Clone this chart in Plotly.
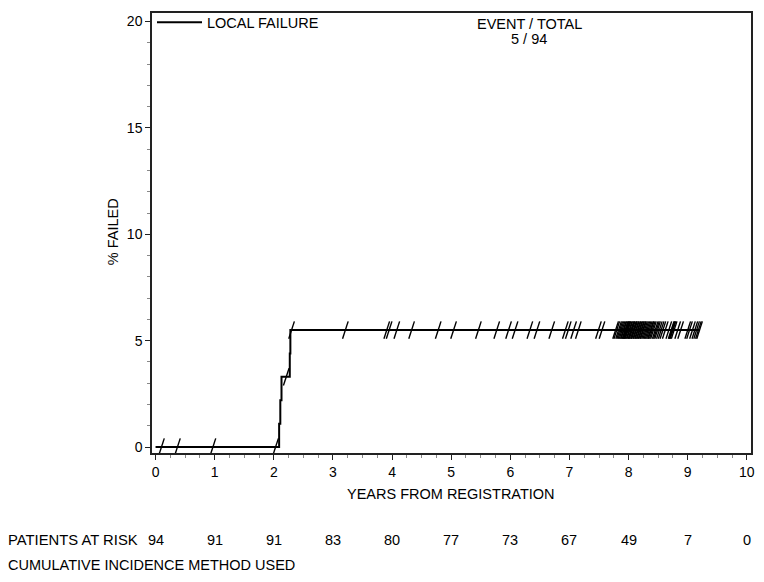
import plotly.graph_objects as go

# ---- data ----
event_times = [2.09, 2.11, 2.13, 2.27, 2.28]
cum_incidence = [1.1, 2.2, 3.3, 4.4, 5.5]
last_followup = 9.20

censor_times = [0.10, 0.37, 0.97, 2.03, 2.21, 2.30, 3.21, 3.91, 3.95, 4.08, 4.33, 4.78,
                5.04, 5.46, 5.77, 5.97, 6.08, 6.33, 6.45, 6.70, 6.93, 6.98, 7.07, 7.15,
                7.49, 7.55,
                7.78, 7.80, 7.83, 7.85, 7.87, 7.89, 7.91, 7.92, 7.94, 7.95, 7.96, 7.97, 7.98, 7.99,
                8.01, 8.02, 8.04, 8.05, 8.06, 8.08, 8.09, 8.10, 8.12, 8.13,
                8.15, 8.16, 8.18, 8.19, 8.21, 8.22, 8.24, 8.25, 8.27, 8.29,
                8.31, 8.33, 8.35, 8.37, 8.38, 8.40, 8.42, 8.45, 8.47, 8.49,
                8.52, 8.55, 8.58, 8.62, 8.68, 8.72, 8.73, 8.74, 8.75, 8.77,
                8.83, 8.88,
                9.00, 9.03, 9.08, 9.12, 9.15, 9.18, 9.20]

risk_years = [0, 1, 2, 3, 4, 5, 6, 7, 8, 9, 10]
patients_at_risk = [94, 91, 91, 83, 80, 77, 73, 67, 49, 7, 0]
x_ticks = [0, 1, 2, 3, 4, 5, 6, 7, 8, 9, 10]
y_ticks = [0, 5, 10, 15, 20]

legend_name = "LOCAL FAILURE"
events_total = "5 / 94"

FONT = "Liberation Sans, Arial, sans-serif"
TXT = 14.5

# step curve
xs = [0.0] + event_times + [last_followup]
ys = [0.0] + cum_incidence + [cum_incidence[-1]]


def level_at(t):
    lvl = 0.0
    for et, ci in zip(event_times, cum_incidence):
        if et <= t:
            lvl = ci
    return lvl


censor_levels = [level_at(t) for t in censor_times]

fig = go.Figure()
fig.add_trace(go.Scatter(x=xs, y=ys, mode="lines", line_shape="hv",
                         line=dict(color="black", width=2), name=legend_name))
fig.add_trace(go.Scatter(x=censor_times, y=censor_levels, mode="markers",
                         marker=dict(symbol="line-ns", size=13, angle=18,
                                     line=dict(color="black", width=1.4)),
                         showlegend=False, hoverinfo="skip"))

annotations = [
    dict(x=0.63, y=0.975, xref="paper", yref="paper", text="EVENT / TOTAL",
         showarrow=False, xanchor="center", yanchor="middle", font=dict(size=TXT)),
    dict(x=0.63, y=0.941, xref="paper", yref="paper", text=events_total,
         showarrow=False, xanchor="center", yanchor="middle", font=dict(size=TXT)),
    dict(x=0.499, y=-0.093, xref="paper", yref="paper", text="YEARS FROM REGISTRATION",
         showarrow=False, xanchor="center", yanchor="middle", font=dict(size=TXT)),
    dict(x=-0.065, y=0.502, xref="paper", yref="paper", text="% FAILED", textangle=-90,
         showarrow=False, xanchor="center", yanchor="middle", font=dict(size=TXT)),
    dict(x=-0.2435, y=-0.1977, xref="paper", yref="paper", text="PATIENTS AT RISK",
         showarrow=False, xanchor="left", yanchor="middle", font=dict(size=14.8)),
    dict(x=-0.2435, y=-0.2545, xref="paper", yref="paper",
         text="CUMULATIVE INCIDENCE METHOD USED",
         showarrow=False, xanchor="left", yanchor="middle", font=dict(size=TXT)),
]
for yr, n in zip(risk_years, patients_at_risk):
    annotations.append(dict(x=yr, y=-0.1977, xref="x", yref="paper", text=str(n),
                            showarrow=False, xanchor="center", yanchor="middle",
                            font=dict(size=TXT)))

# the page body adds an 8px offset, so the figure is sized to fit the window
fig.update_layout(
    width=756, height=574,
    margin=dict(l=144, r=13, t=5, b=129, autoexpand=False),
    paper_bgcolor="white", plot_bgcolor="white",
    font=dict(family=FONT, size=14, color="black"),
    showlegend=True,
    legend=dict(x=0.0, y=1.015, xanchor="left", yanchor="top", itemwidth=45,
                bgcolor="rgba(0,0,0,0)", font=dict(size=TXT)),
    annotations=annotations,
)
fig.update_xaxes(range=[-0.06, 10.07], tickmode="array", automargin=False,
                 tickvals=x_ticks, ticks="outside", ticklen=5,
                 tickcolor="#222", showgrid=False, zeroline=False,
                 showline=True, linecolor="#222", linewidth=1.5, mirror=True,
                 minor=dict(dtick=0.25, ticks="outside", ticklen=3, tickcolor="#888"))
fig.update_yaxes(range=[-0.28, 20.4], tickmode="array", automargin=False,
                 tickvals=y_ticks, ticks="outside", ticklen=5,
                 tickcolor="#222", showgrid=False, zeroline=False,
                 showline=True, linecolor="#222", linewidth=1.5, mirror=True,
                 minor=dict(dtick=1, ticks="outside", ticklen=3, tickcolor="#888"))

fig.write_html("out.html")
